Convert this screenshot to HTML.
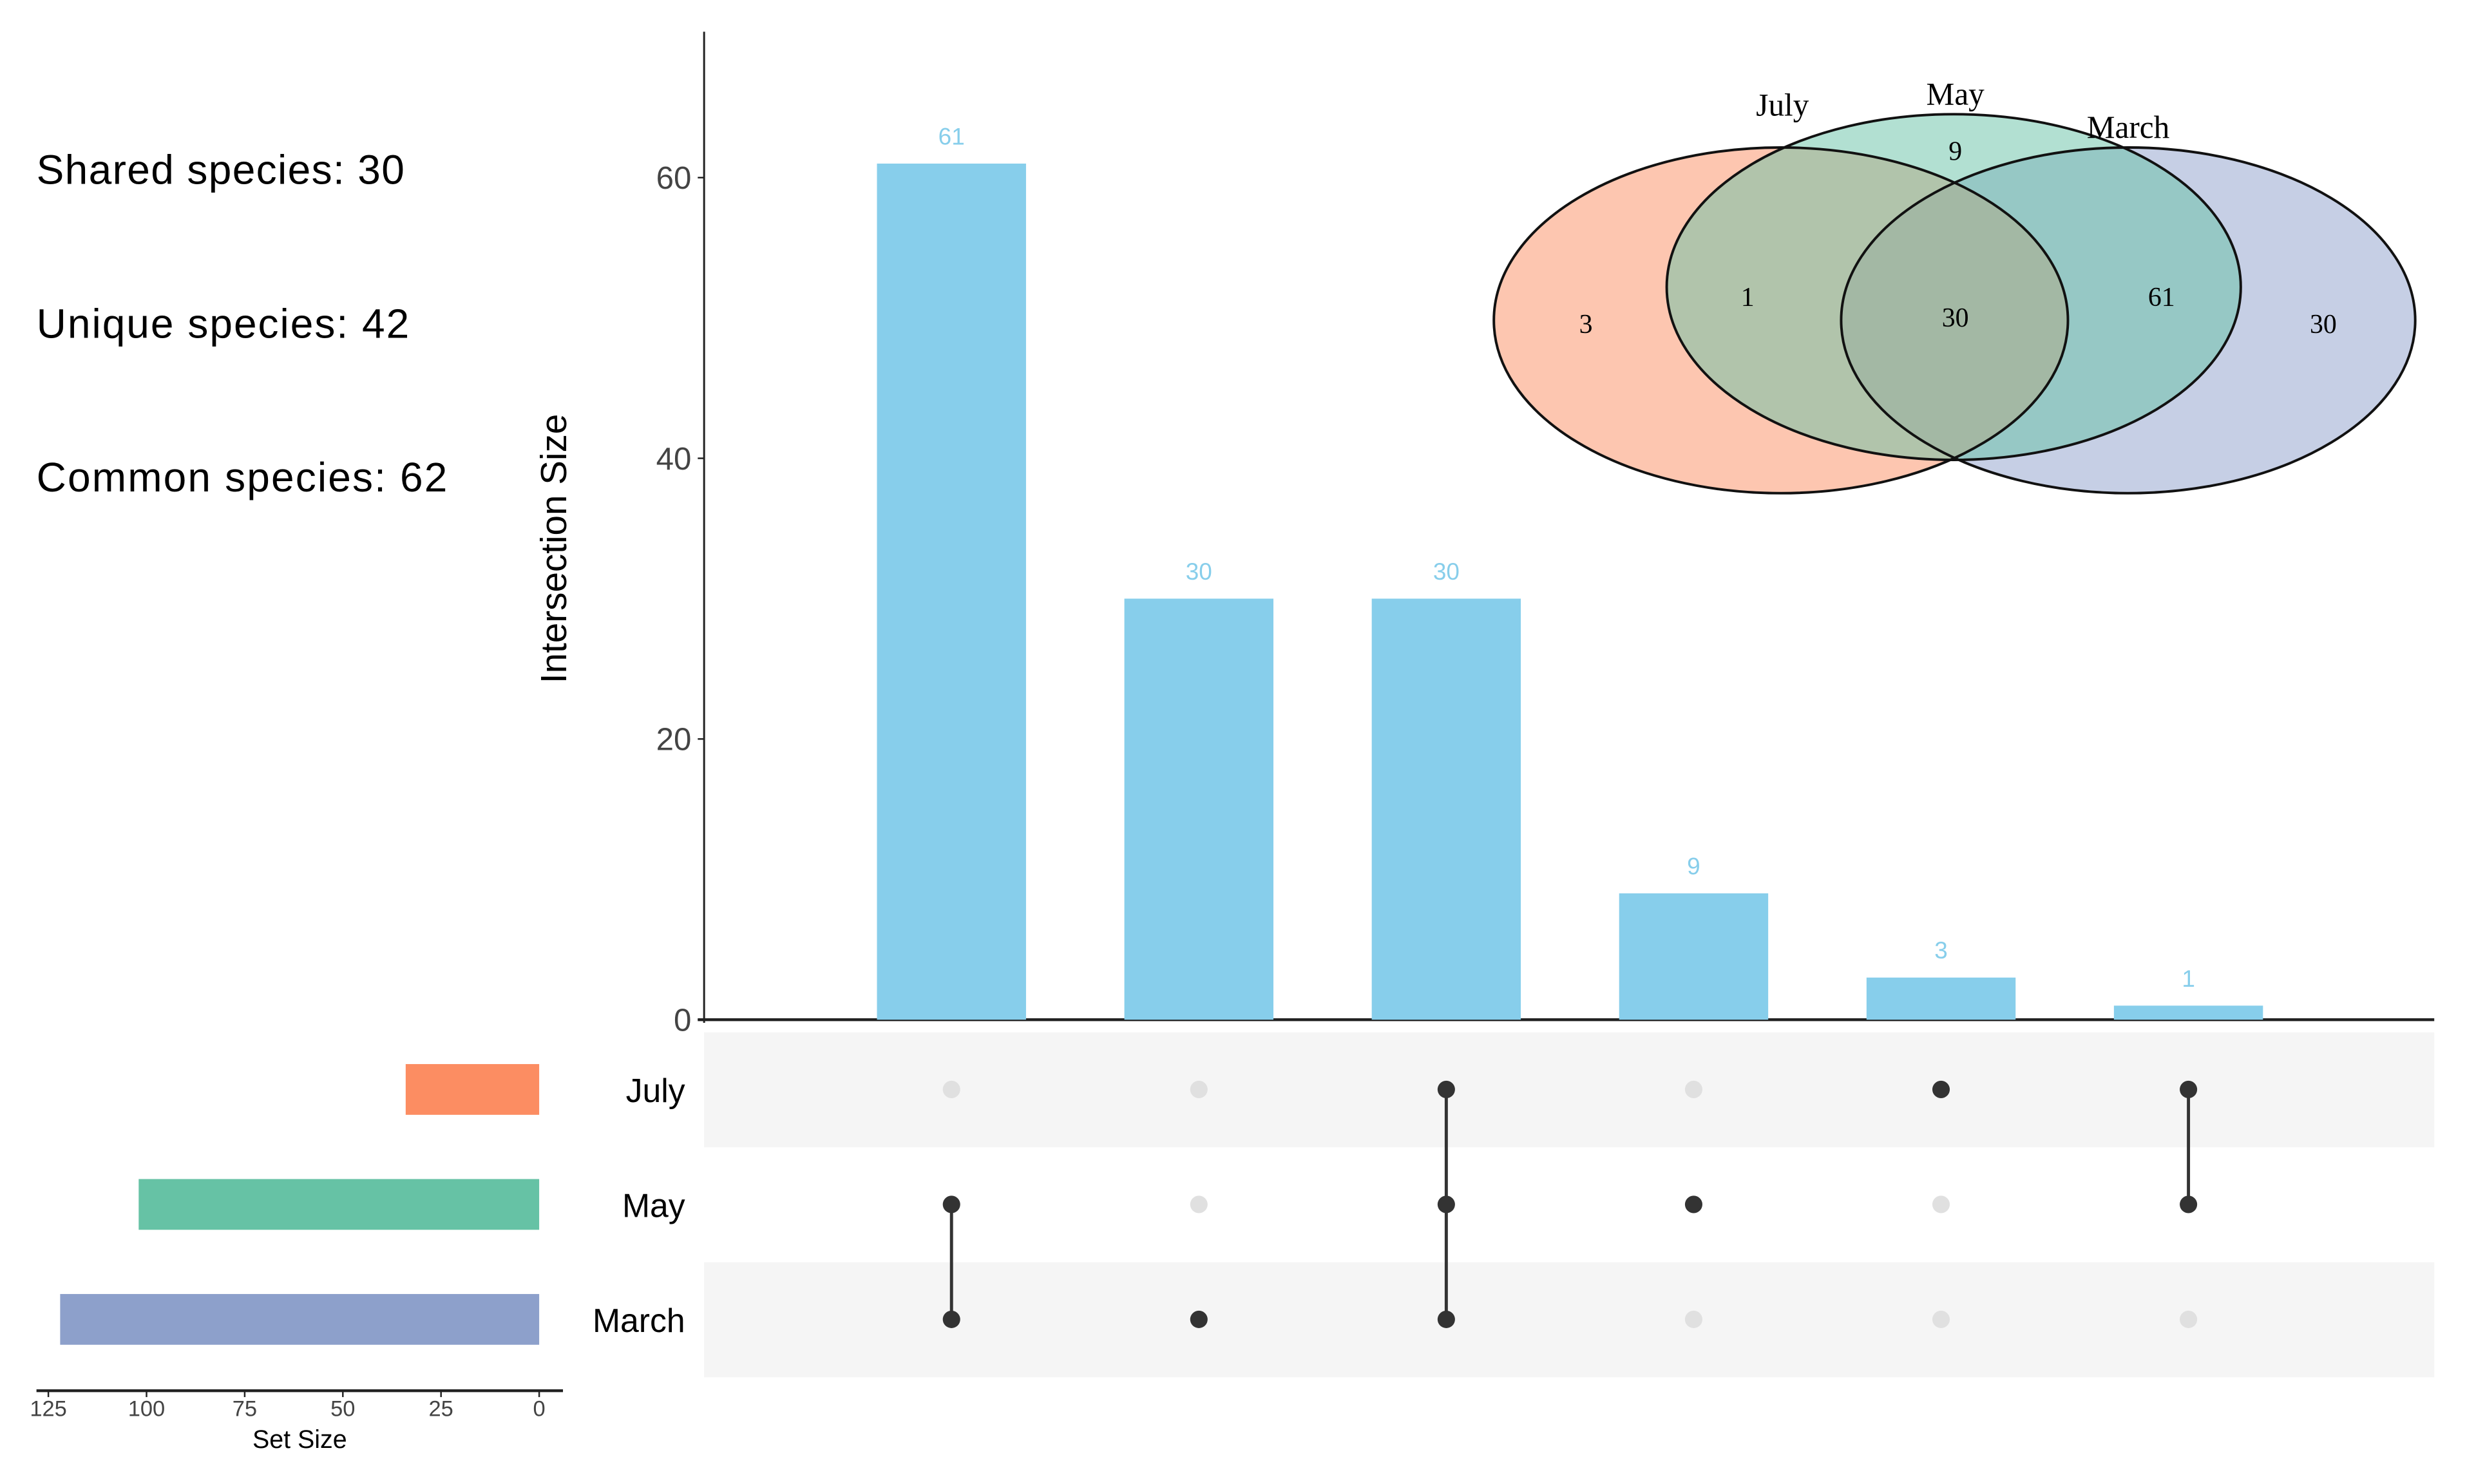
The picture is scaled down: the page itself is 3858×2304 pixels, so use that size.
<!DOCTYPE html>
<html><head><meta charset="utf-8"><style>
html,body{margin:0;padding:0;background:#fff;}
svg{display:block;}
text{font-family:"Liberation Sans",sans-serif;}
.serif{font-family:"Liberation Serif",serif;}
</style></head><body>
<svg id="chart" width="3858" height="2304" viewBox="0 0 1567 935.8" xmlns="http://www.w3.org/2000/svg">
<g font-size="26" fill="#000">
<text x="23" y="116" textLength="232">Shared species: 30</text>
<text x="23" y="213" textLength="235">Unique species: 42</text>
<text x="23" y="310" textLength="259">Common species: 62</text>
</g>
<g id="matrix-bg"></g>
<g id="bars"></g>
<g id="matrix"></g>
<g id="setbars"></g>
<g id="venn"></g>
</svg>
<script>
const intersectionValues=[61,30,30,9,3,1];
const intersectionMembers=[["May","March"],["March"],["July","May","March"],["May"],["July"],["July","May"]];
const yTicks=[0,20,40,60];
const setNames=["July","May","March"];
const setSizes=[34,102,122];
const setColors=["#fc8d62","#66c2a5","#8da0cb"];
const setTicks=[125,100,75,50,25,0];
const vennLabels=["July","May","March"];
const vennCounts=[3,1,9,30,61,30];

const NS="http://www.w3.org/2000/svg";
function mk(tag,attrs,parent,txt){const e=document.createElementNS(NS,tag);for(const k in attrs)e.setAttribute(k,attrs[k]);if(txt!==undefined)e.textContent=txt;parent.appendChild(e);return e;}
const yScale=v=>643-v*8.85;
const xScale=i=>600+i*156;
const rowY=i=>687+i*72.5;
const sxScale=v=>340-v*2.476;

const bg=document.getElementById('matrix-bg');
[0,2].forEach(i=>{
 const r=mk('rect',{x:444,y:rowY(i)-36,width:1091,height:72.5,fill:'#f5f5f5'},bg);
 
 
});

const bars=document.getElementById('bars');
let ax=mk('line',{x1:444,y1:20,x2:444,y2:645,stroke:'#222','stroke-width':1.2},bars);


let bx=mk('line',{x1:440,y1:643,x2:1535,y2:643,stroke:'#222','stroke-width':1.8},bars);


yTicks.forEach(t=>{
 const tl=mk('line',{x1:440,y1:yScale(t),x2:444,y2:yScale(t),stroke:'#222','stroke-width':1},bars);
 
 
 const tx=mk('text',{x:436,y:yScale(t)+7,'text-anchor':'end','font-size':20,fill:'#444'},bars,String(t));
 
 
});
let yt=mk('text',{x:0,y:0,transform:'translate(357,346) rotate(-90)','text-anchor':'middle','font-size':23,fill:'#000'},bars,'Intersection Size');


intersectionValues.forEach((v,i)=>{
 const r=mk('rect',{x:xScale(i)-47,y:yScale(v),width:94,height:643-yScale(v),fill:'#87ceeb'},bars);
 
 
 const l=mk('text',{x:xScale(i),y:yScale(v)-12,'text-anchor':'middle','font-size':15,fill:'#87ceeb'},bars,String(v));
 
 
});

const mat=document.getElementById('matrix');
intersectionMembers.forEach((mem,i)=>{
 const idx=mem.map(m=>setNames.indexOf(m));
 if(idx.length>1){
  const ln=mk('line',{x1:xScale(i),x2:xScale(i),y1:rowY(Math.min(...idx)),y2:rowY(Math.max(...idx)),stroke:'#333','stroke-width':2},mat);
  
  
 }
 setNames.forEach((s,j)=>{
  const on=idx.includes(j);
  const c=mk('circle',{cx:xScale(i),cy:rowY(j),r:5.5,fill:on?'#333':'#e0e0e0'},mat);
  
  
 });
});

const sb=document.getElementById('setbars');
setNames.forEach((s,j)=>{
 const r=mk('rect',{x:sxScale(setSizes[j]),y:rowY(j)-16,width:340-sxScale(setSizes[j]),height:32,fill:setColors[j]},sb);
 
 
 const t=mk('text',{x:432,y:rowY(j)+8,'text-anchor':'end','font-size':21,fill:'#000'},sb,s);
 
 
});
let sax=mk('line',{x1:23,y1:877,x2:355,y2:877,stroke:'#222','stroke-width':1.8},sb);


setTicks.forEach(t=>{
 const tl=mk('line',{x1:sxScale(t),x2:sxScale(t),y1:877,y2:881,stroke:'#222','stroke-width':1},sb);
 
 
 const tx=mk('text',{x:sxScale(t),y:893,'text-anchor':'middle','font-size':14,fill:'#444'},sb,String(t));
 
 
});
let st=mk('text',{x:189,y:913,'text-anchor':'middle','font-size':16,fill:'#000'},sb,'Set Size');



const vn=document.getElementById('venn');
const ell=[[1123,202],[1232,181],[1342,202]];
[2,0,1].forEach(j=>{
 const e=ell[j];
 const el=mk('ellipse',{cx:e[0],cy:e[1],rx:181,ry:109,fill:setColors[j],'fill-opacity':0.5,stroke:'none'},vn);
 
 
});
ell.forEach((e,j)=>{
 const el=mk('ellipse',{cx:e[0],cy:e[1],rx:181,ry:109,fill:'none',stroke:'#111','stroke-width':1.6},vn);
 
 
});
const vlPos=[[1124,73],[1233,66],[1342,87]];
vennLabels.forEach((s,j)=>{
 const t=mk('text',{x:vlPos[j][0],y:vlPos[j][1],'text-anchor':'middle','font-size':20,fill:'#000',class:'serif'},vn,s);
 
 
});
const vcPos=[[1000,210],[1102,193],[1233,101],[1233,206],[1363,193],[1465,210]];
vennCounts.forEach((v,k)=>{
 const t=mk('text',{x:vcPos[k][0],y:vcPos[k][1],'text-anchor':'middle','font-size':17,fill:'#000',class:'serif'},vn,String(v));
 
 
});
</script>
</body></html>
